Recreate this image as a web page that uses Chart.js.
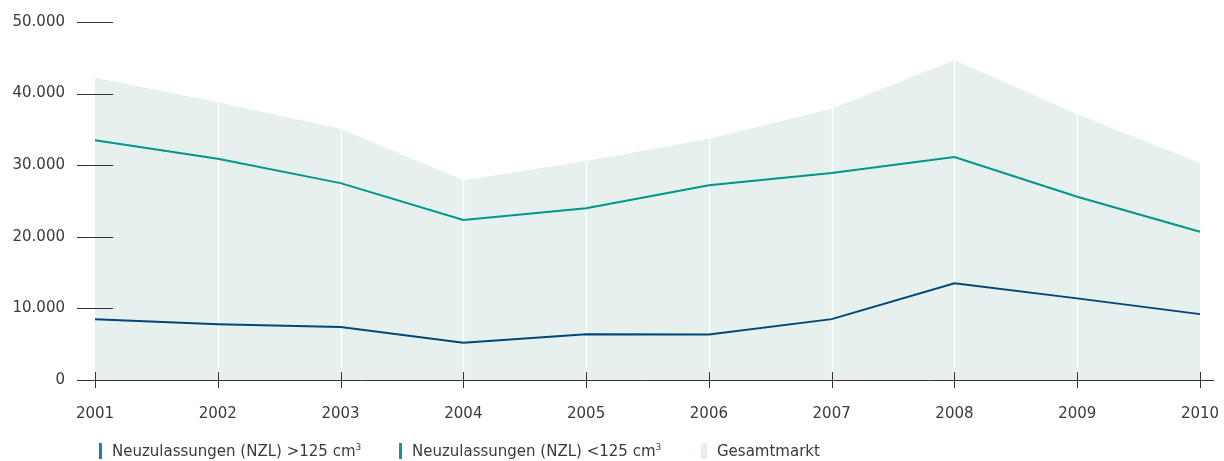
<!DOCTYPE html>
<html lang="de">
<head>
<meta charset="utf-8">
<title>Neuzulassungen 2001–2010</title>
<script src="https://cdn.jsdelivr.net/npm/chart.js@4.4.1/dist/chart.umd.min.js"></script>
<style>
  html, body { margin: 0; padding: 0; background: #ffffff; }
  #wrap { position: relative; width: 1224px; height: 461px; }
  #chart { position: absolute; left: 0; top: 0; }
  .item {
    position: absolute; top: 442px; height: 18px;
    display: flex; align-items: center;
    font-family: "DejaVu Sans", "Open Sans", sans-serif;
    font-size: 15px; color: #3a3a3a; white-space: nowrap;
  }
  .mark { display: inline-block; height: 16px; margin-right: 10px; }
  sup { font-size: 9px; vertical-align: 6px; line-height: 0; }
</style>
</head>
<body>
<div id="wrap">
  <canvas id="chart" width="1224" height="461"></canvas>
  <div id="legend"></div>
</div>
<script>
// Jahre (Kategorien)
const years = ['2001', '2002', '2003', '2004', '2005', '2006', '2007', '2008', '2009', '2010'];

// Neuzulassungen über 125 cm³
const nzlOver125 = [8500, 7800, 7400, 5200, 6400, 6350, 8500, 13500, 11400, 9200];

// Neuzulassungen unter 125 cm³
const nzlUnder125 = [33500, 30900, 27500, 22350, 24000, 27200, 28900, 31150, 25600, 20700];

// Gesamtmarkt
const gesamtmarkt = [42200, 38800, 35100, 27900, 30600, 33700, 37900, 44700, 37100, 30300];

// Y-Achse
const yTicks = [0, 10000, 20000, 30000, 40000, 50000];

const legendItems = [
  { html: 'Neuzulassungen (NZL) &gt;125 cm<sup>3</sup>', color: '#1d7dc2', width: 3, left: 99 },
  { html: 'Neuzulassungen (NZL) &lt;125 cm<sup>3</sup>', color: '#14998b', width: 3, left: 399 },
  { html: 'Gesamtmarkt', color: '#e6f0ee', width: 6, left: 701 }
];

const COLORS = {
  over: '#004677',
  under: '#00968a',
  area: '#e6f0ee',
  axis: '#333333',
  text: '#3a3a3a'
};

const FONT = '"DejaVu Sans", "Open Sans", sans-serif';

function formatDE(v) {
  return String(v).replace(/\B(?=(\d{3})+(?!\d))/g, '.');
}

// Weiße Jahreslinien innerhalb der Fläche, danach Achsen und Striche
const axisPlugin = {
  id: 'axisMarks',
  afterDatasetDraw(chart, args) {
    if (args.meta.label !== 'Gesamtmarkt') return;
    const ctx = chart.ctx;
    const y = chart.scales.y;
    const points = args.meta.data;
    ctx.save();
    ctx.strokeStyle = '#ffffff';
    ctx.lineWidth = 1.5;
    points.forEach((p, i) => {
      if (i === 0 || i === points.length - 1) return;
      ctx.beginPath();
      ctx.moveTo(Math.round(p.x) + 0.5, p.y);
      ctx.lineTo(Math.round(p.x) + 0.5, y.getPixelForValue(0));
      ctx.stroke();
    });
    ctx.restore();
  },
  afterDatasetsDraw(chart) {
    const ctx = chart.ctx;
    const x = chart.scales.x, y = chart.scales.y;
    const area = chart.chartArea;
    ctx.save();
    ctx.strokeStyle = COLORS.axis;
    ctx.lineWidth = 1;
    // horizontale Striche an den Y-Werten
    yTicks.forEach(v => {
      const py = Math.round(y.getPixelForValue(v)) + 0.5;
      ctx.beginPath();
      ctx.moveTo(area.left - 18, py);
      ctx.lineTo(v === 0 ? area.right + 14 : area.left + 18, py);
      ctx.stroke();
    });
    // senkrechte Striche an den Jahren
    const py0 = y.getPixelForValue(0);
    years.forEach((yr, i) => {
      const px = Math.round(x.getPixelForValue(i)) + 0.5;
      ctx.beginPath();
      ctx.moveTo(px, py0 - 8);
      ctx.lineTo(px, py0 + 8);
      ctx.stroke();
    });
    ctx.restore();
  }
};

const ctx = document.getElementById('chart').getContext('2d');
new Chart(ctx, {
  type: 'line',
  data: {
    labels: years,
    datasets: [
      {
        label: 'Neuzulassungen (NZL) >125 cm³',
        data: nzlOver125,
        borderColor: COLORS.over,
        borderWidth: 2,
        pointRadius: 0,
        tension: 0,
        fill: false,
        order: 1
      },
      {
        label: 'Neuzulassungen (NZL) <125 cm³',
        data: nzlUnder125,
        borderColor: COLORS.under,
        borderWidth: 2,
        pointRadius: 0,
        tension: 0,
        fill: false,
        order: 2
      },
      {
        label: 'Gesamtmarkt',
        data: gesamtmarkt,
        borderColor: COLORS.area,
        backgroundColor: COLORS.area,
        borderWidth: 0,
        pointRadius: 0,
        tension: 0,
        fill: 'origin',
        order: 3
      }
    ]
  },
  options: {
    responsive: false,
    animation: false,
    events: [],
    layout: { padding: { top: 22, right: 24, bottom: 21, left: 0 } },
    plugins: {
      legend: { display: false },
      tooltip: { enabled: false }
    },
    scales: {
      x: {
        type: 'category',
        offset: false,
        afterFit(scale) { scale.paddingLeft = 0; scale.paddingRight = 0; },
        grid: { display: false },
        border: { display: false },
        ticks: {
          padding: 17,
          color: COLORS.text,
          font: { family: FONT, size: 15 },
          maxRotation: 0,
          autoSkip: false
        }
      },
      y: {
        min: 0,
        max: 50000,
        afterFit(scale) { scale.width = 95; },
        afterBuildTicks(scale) { scale.ticks = yTicks.map(v => ({ value: v })); },
        grid: { display: true, drawOnChartArea: false, drawTicks: true, tickLength: 18, color: 'rgba(0,0,0,0)' },
        border: { display: false },
        ticks: {
          padding: 12,
          color: COLORS.text,
          font: { family: FONT, size: 15 },
          callback: v => formatDE(v)
        }
      }
    }
  },
  plugins: [axisPlugin]
});

// Legende
const legendEl = document.getElementById('legend');
legendItems.forEach(it => {
  const item = document.createElement('div');
  item.className = 'item';
  item.style.left = it.left + 'px';
  const mark = document.createElement('span');
  mark.className = 'mark';
  mark.style.width = it.width + 'px';
  mark.style.background = it.color;
  const txt = document.createElement('span');
  txt.innerHTML = it.html;
  item.appendChild(mark);
  item.appendChild(txt);
  legendEl.appendChild(item);
});
</script>
</body>
</html>
